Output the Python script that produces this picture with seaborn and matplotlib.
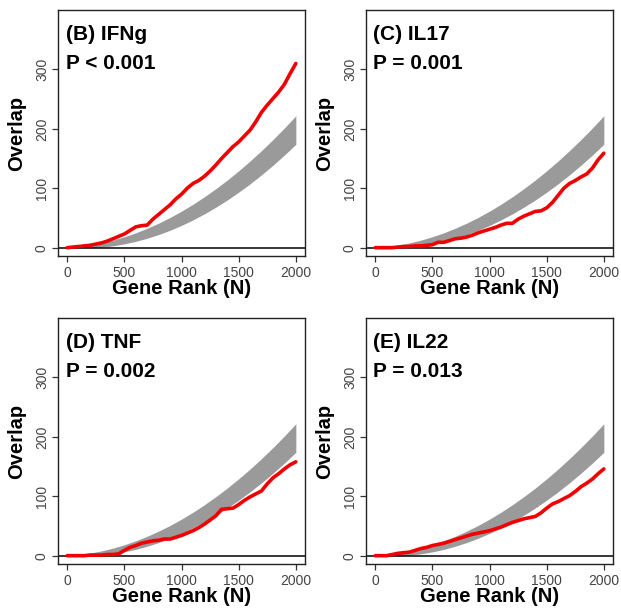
import numpy as np
import pandas as pd
import matplotlib
matplotlib.use("Agg")
import matplotlib.pyplot as plt
import seaborn as sns

# ---------------- data ----------------
rank_grid = list(range(0, 2001, 50))          # gene rank positions of observed curves
band_rank = list(range(0, 2001, 100))          # gene rank positions of null band

band_lower = [0, 0, 0, 0.9, 3.1, 6.4, 10.6, 15.9, 22.1, 29.3, 37.5, 46.7, 56.9,
              68.1, 80.2, 93.4, 107.5, 122.7, 138.8, 155.9, 174]
band_upper = [0, 1.7, 4.4, 8.0, 12.7, 18.4, 25.0, 32.7, 41.3, 50.9, 61.5, 73.1,
              85.7, 99.3, 113.8, 129.4, 145.9, 163.5, 182.0, 201.5, 222]

overlap_IFNg = [0, 1, 2, 3, 4, 6, 8, 11, 15, 19, 23, 29, 35, 37, 38, 48, 56, 64, 72,
                82, 90, 100, 108, 113, 120, 129, 139, 150, 160, 170, 178, 188, 198,
                212, 228, 240, 251, 262, 275, 293, 310]
overlap_IL17 = [0, 0, 0, 0, 1, 2, 2, 3, 3, 4, 5, 9, 9, 12, 15, 16, 18, 21, 25, 28,
                31, 34, 38, 41, 41, 48, 53, 57, 61, 62, 67, 76, 88, 100, 108, 113,
                119, 124, 134, 148, 159]
overlap_TNF = [0, 0, 0, 0, 1, 1, 1, 2, 2, 3, 9, 14, 17, 21, 23, 25, 26, 28, 28, 31,
               34, 38, 42, 47, 53, 60, 67, 78, 79, 80, 86, 93, 99, 104, 109, 121,
               131, 138, 146, 153, 158]
overlap_IL22 = [0, 0, 0, 2, 4, 5, 6, 9, 12, 14, 17, 19, 21, 24, 27, 30, 33, 36, 38,
                40, 42, 45, 48, 52, 56, 59, 62, 64, 66, 72, 80, 87, 91, 96, 101, 108,
                116, 122, 129, 138, 146]

panel_titles = ["(B) IFNg", "(C) IL17", "(D) TNF", "(E) IL22"]
p_labels = ["P < 0.001", "P = 0.001", "P = 0.002", "P = 0.013"]
series = [overlap_IFNg, overlap_IL17, overlap_TNF, overlap_IL22]

x_ticks = [0, 500, 1000, 1500, 2000]
y_ticks = [0, 100, 200, 300]

# ---------------- style ----------------
sns.set_style("white")
plt.rcParams["font.family"] = ["Liberation Sans", "DejaVu Sans"]
plt.rcParams["text.color"] = "black"
plt.rcParams["axes.labelcolor"] = "black"

fig = plt.figure(figsize=(6.21, 6.14), dpi=100)

W, H = 621, 614
rects_px = [(58, 10), (366, 10), (58, 318), (366, 318)]   # (left, top) in px
aw, ah = 247, 246

for (lx, ty), title, plab, vals in zip(rects_px, panel_titles, p_labels, series):
    ax = fig.add_axes([lx / W, (H - ty - ah) / H, aw / W, ah / H])
    ax.fill_between(band_rank, band_lower, band_upper, color="#9a9a9a", lw=0, zorder=1)
    ax.axhline(0, color="black", lw=1.1, zorder=2)
    df = pd.DataFrame({"rank": rank_grid, "overlap": vals})
    sns.lineplot(data=df, x="rank", y="overlap", ax=ax, color="#f00000",
                 lw=2.6, estimator=None, zorder=3)
    ax.set_xlim(-80, 2080)
    ax.set_ylim(-14, 400)
    ax.set_xticks(x_ticks)
    ax.set_yticks(y_ticks)
    ax.set_xticklabels([str(t) for t in x_ticks])
    ax.set_yticklabels([str(t) for t in y_ticks], rotation=90, va="center")
    ax.tick_params(axis="both", which="major", direction="out", length=4,
                   width=0.9, color="#333333", labelsize=10, labelcolor="#444444",
                   bottom=True, left=True)
    ax.tick_params(axis="x", pad=3.5)
    ax.tick_params(axis="y", pad=2.5)
    for sp in ax.spines.values():
        sp.set_color("#222222")
        sp.set_linewidth(1.0)
    ax.set_xlabel("Gene Rank (N)", fontsize=14.5, fontweight="bold", color="black")
    ax.set_ylabel("Overlap", fontsize=14.5, fontweight="bold", color="black")
    ax.xaxis.label.set_verticalalignment("center")
    ax.yaxis.label.set_verticalalignment("center")
    ax.xaxis.set_label_coords(0.5, -33 / ah)
    ax.yaxis.set_label_coords(-41 / aw, 0.5)
    ax.text(7.5 / aw, 1 - 30.5 / ah, title, transform=ax.transAxes, fontsize=15,
            fontweight="bold", ha="left", va="baseline", color="black")
    ax.text(7.5 / aw, 1 - 59 / ah, plab, transform=ax.transAxes, fontsize=15,
            fontweight="bold", ha="left", va="baseline", color="black")

fig.savefig("out.png", dpi=100)
